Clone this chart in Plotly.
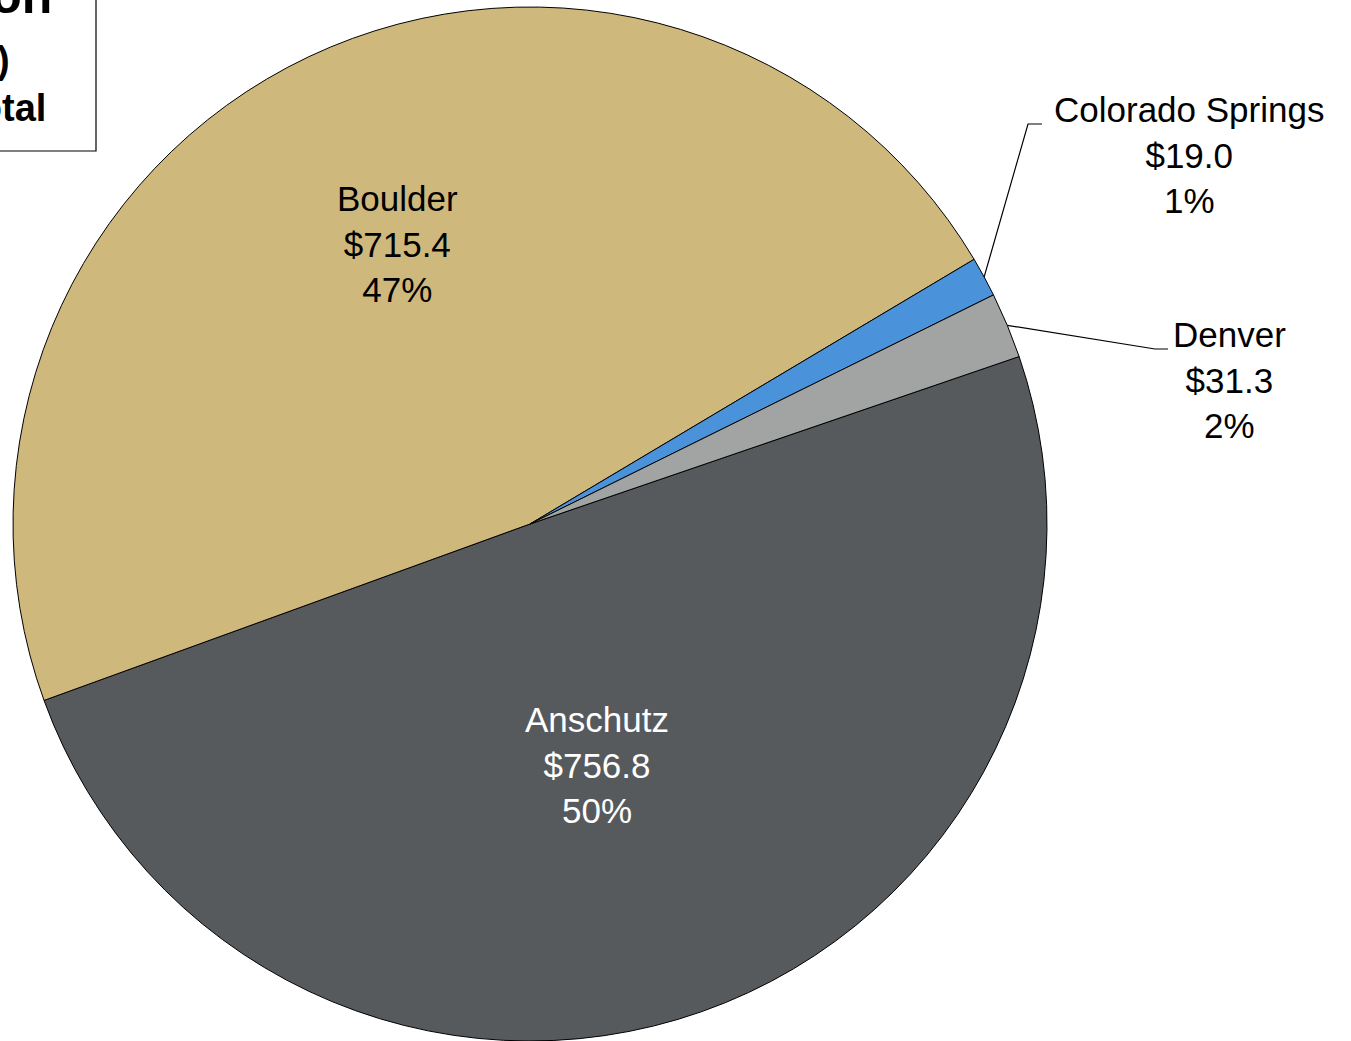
import math
import plotly.graph_objects as go

campuses = ["Anschutz", "Boulder", "Colorado Springs", "Denver"]
amounts = [756.8, 715.4, 19.0, 31.3]
colors = ["#575A5D", "#CFB87C", "#4A93DB", "#A2A4A3"]
title_lines = ["Research Expenditure Distribution", "($ in Millions)", "Percent of Total"]

W, H = 1351, 1041
CX, CY, R = 530, 524, 517
ROT = 71.1  # degrees clockwise from 12 o'clock

fig = go.Figure(go.Pie(
    labels=campuses, values=amounts, sort=False, direction="clockwise",
    rotation=ROT, marker=dict(colors=colors, line=dict(color="black", width=1)),
    textinfo="none", hoverinfo="label+value+percent", showlegend=False,
    domain=dict(x=[(CX - R) / W, (CX + R) / W], y=[1 - (CY + R) / H, 1 - (CY - R) / H]),
))

total = sum(amounts)
font = dict(family="Liberation Sans, Arial, sans-serif", size=35)

def px(x):
    return x / W

def py(y):
    return 1 - y / H

mids = []
start = ROT
for v in amounts:
    span = v / total * 360
    mids.append(start + span / 2)
    start += span

def polar(angle_cw, r):
    a = math.radians(angle_cw)
    return CX + r * math.sin(a), CY - r * math.cos(a)

annotations = []
shapes = []
inside_pos = {"Anschutz": (0.484, 3.9), "Boulder": (0.6, 0.0)}
outside = {"Colorado Springs": (1189, 155, 1028, 124, 1042), "Denver": (1229, 380, 1155, 349, 1168)}
for name, v, m, c in zip(campuses, amounts, mids, colors):
    txt = f"{name}<br>${v:.1f}<br>{round(v / total * 100)}%"
    if name in inside_pos:
        rf, da = inside_pos[name]
        x, y = polar(m + da, R * rf)
        fcol = "white" if name == "Anschutz" else "black"
        annotations.append(dict(x=px(x), y=py(y), xref="paper", yref="paper", text=txt,
                                xanchor="center", yanchor="middle",
                                showarrow=False, font=dict(font, color=fcol), align="center"))
    else:
        lx, ly, bx, by, ex = outside[name]
        annotations.append(dict(x=px(lx), y=py(ly), xref="paper", yref="paper", text=txt,
                                xanchor="center", yanchor="middle",
                                showarrow=False, font=dict(font, color="black"), align="center"))
        sx, sy = polar(m, R)
        shapes.append(dict(type="path", xref="paper", yref="paper",
                           path=f"M {px(sx)} {py(sy)} L {px(bx)} {py(by)} L {px(ex)} {py(by)}",
                           line=dict(color="black", width=1.2)))

# title box (cropped at top-left in the reference)
shapes.append(dict(type="rect", xref="paper", yref="paper", x0=px(-600), x1=px(96),
                   y0=py(151), y1=py(-100), line=dict(color="black", width=1.2), fillcolor="white"))
tfont = dict(family="Liberation Sans, Arial, sans-serif", color="black")
annotations.append(dict(x=px(54), y=py(26), xref="paper", yref="paper", xanchor="right", yanchor="bottom",
                        text=f"<b>{title_lines[0]}</b>", showarrow=False, font=dict(tfont, size=50)))
annotations.append(dict(x=px(12), y=py(60), xref="paper", yref="paper", xanchor="right", yanchor="middle",
                        text=f"<b>{title_lines[1]}</b>", showarrow=False, font=dict(tfont, size=38)))
annotations.append(dict(x=px(48), y=py(108), xref="paper", yref="paper", xanchor="right", yanchor="middle",
                        text=f"<b>{title_lines[2]}</b>", showarrow=False, font=dict(tfont, size=38)))

fig.update_layout(width=W, height=H, margin=dict(l=0, r=0, t=0, b=0),
                  paper_bgcolor="white", plot_bgcolor="white",
                  annotations=annotations, shapes=shapes)
fig.write_html("out.html", config={"displayModeBar": False},
               post_script="document.body.style.margin='0';document.body.style.overflow='hidden';")
